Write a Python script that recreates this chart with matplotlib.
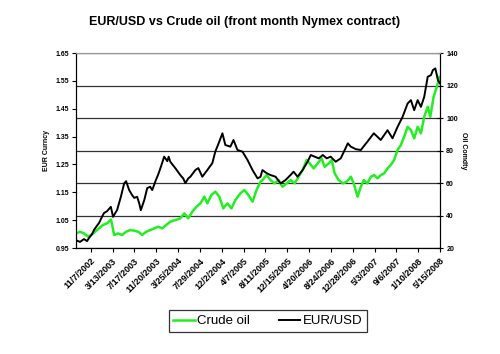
#!/usr/bin/env python3
# EUR/USD vs crude oil, weekly-ish readings
import pandas as pd
import matplotlib
matplotlib.use("Agg")
import matplotlib.pyplot as plt

# %% data
eur_dates = [
    "2002-08-14", "2002-09-06", "2002-09-29", "2002-10-17", "2002-10-28",
    "2002-11-15", "2002-11-26", "2002-12-13", "2002-12-25", "2003-01-11",
    "2003-01-23", "2003-02-09", "2003-03-03", "2003-03-16", "2003-03-28",
    "2003-04-08", "2003-04-30", "2003-05-19", "2003-05-30", "2003-06-17",
    "2003-07-04", "2003-07-16", "2003-08-02", "2003-08-14", "2003-08-23",
    "2003-09-12", "2003-09-29", "2003-10-16", "2003-10-28", "2003-11-18",
    "2003-12-02", "2003-12-17", "2004-01-05", "2004-01-23", "2004-01-31",
    "2004-02-09", "2004-03-09", "2004-04-07", "2004-04-24", "2004-05-06",
    "2004-05-23", "2004-06-04", "2004-07-03", "2004-07-20", "2004-08-12",
    "2004-09-10", "2004-10-09", "2004-10-26", "2004-11-18", "2004-12-06",
    "2004-12-23", "2005-01-21", "2005-02-08", "2005-03-03", "2005-04-01",
    "2005-04-30", "2005-05-29", "2005-06-27", "2005-07-14", "2005-07-25",
    "2005-08-18", "2005-09-10", "2005-10-09", "2005-11-07", "2005-12-05",
    "2006-01-03", "2006-01-21", "2006-02-13", "2006-03-14", "2006-04-12",
    "2006-04-30", "2006-05-23", "2006-06-15", "2006-07-09", "2006-07-31",
    "2006-08-23", "2006-09-21", "2006-10-20", "2006-11-12", "2006-11-30",
    "2006-12-17", "2007-01-15", "2007-02-13", "2007-03-23", "2007-04-29",
    "2007-06-08", "2007-07-17", "2007-08-15", "2007-09-13", "2007-10-12",
    "2007-11-10", "2007-11-29", "2007-12-18", "2008-01-07", "2008-01-26",
    "2008-02-14", "2008-03-05", "2008-03-24", "2008-04-04", "2008-04-18",
    "2008-05-03", "2008-05-15",
]
eur_usd = [
    0.978, 0.972, 0.982, 0.975, 0.986,
    1.000, 1.015, 1.030, 1.040, 1.062,
    1.076, 1.082, 1.098, 1.062, 1.075,
    1.086, 1.134, 1.182, 1.190, 1.158,
    1.140, 1.130, 1.134, 1.110, 1.086,
    1.122, 1.165, 1.170, 1.158, 1.194,
    1.215, 1.242, 1.278, 1.262, 1.278,
    1.260, 1.237, 1.212, 1.200, 1.183,
    1.200, 1.206, 1.230, 1.237, 1.206,
    1.230, 1.255, 1.296, 1.332, 1.362,
    1.320, 1.314, 1.338, 1.302, 1.296,
    1.266, 1.230, 1.200, 1.206, 1.230,
    1.219, 1.212, 1.206, 1.182, 1.194,
    1.212, 1.224, 1.206, 1.230, 1.260,
    1.284, 1.278, 1.272, 1.284, 1.272,
    1.278, 1.260, 1.272, 1.302, 1.326,
    1.314, 1.305, 1.302, 1.332, 1.362,
    1.338, 1.373, 1.344, 1.385, 1.421,
    1.469, 1.481, 1.445, 1.481, 1.457,
    1.493, 1.565, 1.571, 1.589, 1.595,
    1.553, 1.541,
]

oil_dates = [
    "2002-08-14", "2002-09-06", "2002-09-29", "2002-10-22", "2002-11-09",
    "2002-12-02", "2002-12-25", "2003-01-17", "2003-02-09", "2003-03-04",
    "2003-03-13", "2003-03-22", "2003-04-14", "2003-05-07", "2003-05-30",
    "2003-06-22", "2003-07-16", "2003-08-08", "2003-08-31", "2003-09-23",
    "2003-10-16", "2003-11-09", "2003-12-02", "2003-12-25", "2004-01-17",
    "2004-02-09", "2004-03-09", "2004-04-07", "2004-04-30", "2004-05-23",
    "2004-06-15", "2004-07-09", "2004-08-01", "2004-08-24", "2004-09-10",
    "2004-10-03", "2004-10-26", "2004-11-18", "2004-12-11", "2005-01-04",
    "2005-01-27", "2005-02-19", "2005-03-20", "2005-04-12", "2005-05-05",
    "2005-05-29", "2005-06-21", "2005-07-14", "2005-07-25", "2005-08-18",
    "2005-09-10", "2005-10-03", "2005-10-26", "2005-11-18", "2005-12-12",
    "2006-01-04", "2006-01-27", "2006-02-19", "2006-03-14", "2006-04-06",
    "2006-04-24", "2006-05-17", "2006-06-09", "2006-07-02", "2006-07-19",
    "2006-08-12", "2006-08-29", "2006-09-15", "2006-10-08", "2006-11-01",
    "2006-11-24", "2006-12-17", "2007-01-03", "2007-01-25", "2007-02-13",
    "2007-03-02", "2007-03-23", "2007-04-12", "2007-05-01", "2007-05-20",
    "2007-06-08", "2007-06-28", "2007-07-17", "2007-08-05", "2007-08-24",
    "2007-09-13", "2007-10-02", "2007-10-21", "2007-11-10", "2007-11-29",
    "2007-12-18", "2008-01-07", "2008-01-26", "2008-02-14", "2008-03-05",
    "2008-03-20", "2008-04-08", "2008-04-27", "2008-05-11", "2008-05-15",
]
crude_oil = [
    29.0, 30.0, 29.0, 27.0, 28.0,
    30.0, 32.1, 34.2, 35.2, 37.5,
    33.0, 28.0, 29.0, 28.0, 30.0,
    31.0, 30.7, 30.0, 28.0, 30.0,
    31.0, 32.1, 33.1, 32.1, 34.2,
    36.2, 37.2, 38.3, 41.3, 38.3,
    42.3, 45.4, 47.5, 51.6, 47.5,
    52.6, 54.7, 51.6, 44.4, 47.5,
    44.4, 49.5, 53.7, 55.7, 52.6,
    48.5, 55.7, 60.8, 61.8, 64.9,
    61.8, 59.8, 61.8, 57.7, 59.8,
    61.8, 59.8, 63.9, 68.0, 74.2,
    72.1, 69.0, 72.1, 75.2, 70.0,
    72.1, 74.2, 66.0, 61.8, 59.8,
    60.8, 63.9, 59.8, 51.6, 57.7,
    61.8, 59.8, 63.9, 64.9, 62.9,
    64.9, 66.0, 69.0, 71.1, 74.2,
    80.3, 83.4, 88.5, 94.6, 92.6,
    87.5, 94.6, 90.6, 100.8, 107.0,
    100.8, 113.1, 119.3, 125.4, 122.3,
]

tick_labels = [
    "11/7/2002", "3/13/2003", "7/17/2003", "11/20/2003", "3/25/2004",
    "7/29/2004", "12/2/2004", "4/7/2005", "8/11/2005", "12/15/2005",
    "4/20/2006", "8/24/2006", "12/28/2006", "5/3/2007", "9/6/2007",
    "1/10/2008", "5/15/2008",
]
eur_ticks = [0.95, 1.05, 1.15, 1.25, 1.35, 1.45, 1.55, 1.65]
oil_ticks = [20, 40, 60, 80, 100, 120, 140]

# %% plot
font = ["Liberation Sans", "DejaVu Sans"]
small = dict(family=font, fontsize=5, fontweight="bold")

fig = plt.figure(figsize=(5.0, 3.54), dpi=100)
ax = fig.add_axes([0.152, 0.2994, 0.728, 0.5506])
ax2 = ax.twinx()
ax.set_zorder(ax2.get_zorder() + 1)
ax.patch.set_visible(False)

oil_line, = ax2.plot(pd.to_datetime(oil_dates), crude_oil,
                     color="#22ee22", linewidth=1.8, label="Crude oil")
eur_line, = ax.plot(pd.to_datetime(eur_dates), eur_usd,
                    color="black", linewidth=1.4, label="EUR/USD")

ax.set_xlim(pd.Timestamp("2002-08-14"), pd.Timestamp("2008-05-15"))
ax.set_ylim(0.95, 1.65)
ax2.set_ylim(20, 140)

ax.set_yticks(eur_ticks)
ax.set_yticklabels([f"{t:.2f}" for t in eur_ticks], **small)
ax2.set_yticks(oil_ticks)
ax2.set_yticklabels([str(t) for t in oil_ticks], **small)

tick_dates = pd.to_datetime(tick_labels, format="%m/%d/%Y")
ax.set_xticks(tick_dates)
ax.set_xticklabels(tick_labels, rotation=45, ha="right",
                   rotation_mode="anchor", family=font, fontsize=6.5,
                   fontweight="bold")

ax.tick_params(axis="y", direction="out", length=3, width=0.8, pad=2)
ax.tick_params(axis="x", direction="out", length=3, width=0.8, pad=3)
ax2.tick_params(axis="y", direction="inout", length=5, width=0.8, pad=2)

# gridlines from the oil scale, behind both series
ax2.yaxis.grid(True, color="#333333", linewidth=0.9)
ax2.set_axisbelow(True)

for a in (ax, ax2):
    a.spines["top"].set_color("#999999")
    a.spines["left"].set_linewidth(0.8)
    a.spines["right"].set_linewidth(0.8)
    a.spines["bottom"].set_linewidth(0.8)

ax.set_ylabel("EUR Curncy", **small)
ax.yaxis.set_label_coords(-0.072, 0.5)
ax2.set_ylabel("Oil Comdty", rotation=270, va="bottom", **small)
ax2.yaxis.set_label_coords(1.055, 0.5)

fig.suptitle("EUR/USD vs Crude oil (front month Nymex contract)",
             x=0.49, y=0.955, family=font, fontsize=9, fontweight="bold")

leg = fig.legend(handles=[oil_line, eur_line], loc="center",
                 bbox_to_anchor=(0.536, 0.093), ncol=2, frameon=True,
                 fancybox=False, edgecolor="black", handlelength=1.6,
                 handletextpad=0.2, columnspacing=2.2,
                 prop=dict(family=font, size=9.5), borderpad=0.35)
leg.get_frame().set_linewidth(0.9)

fig.savefig("out.png", dpi=100)
